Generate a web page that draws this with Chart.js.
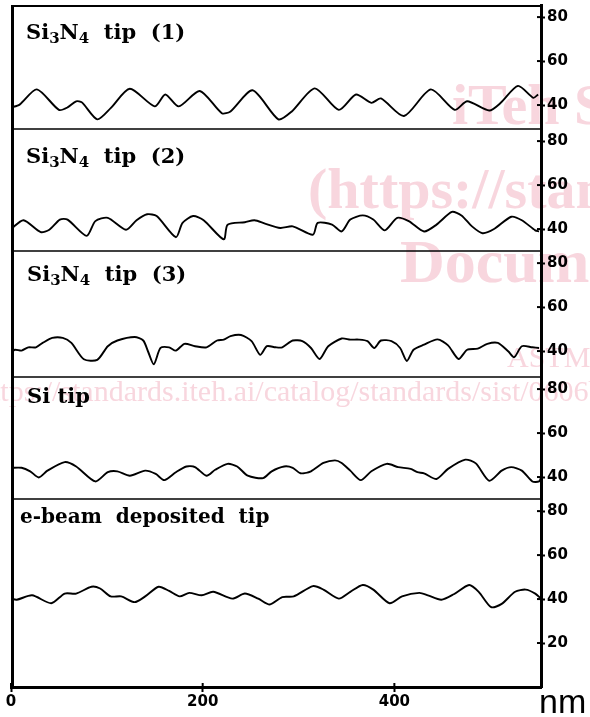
<!DOCTYPE html>
<html>
<head>
<meta charset="utf-8">
<title>Tip line profiles</title>
<script src="https://cdn.jsdelivr.net/npm/chart.js@4.4.1/dist/chart.umd.min.js"></script>
<style>
  html, body { margin: 0; padding: 0; background: #fff; }
  #profileChart { display: block; }
</style>
</head>
<body>
<canvas id="profileChart" width="590" height="717"></canvas>
<script>
// Line profiles: scan position (nm) and measured height, one pair per tip
const tip1Nm = [0, 9, 27, 50, 59, 68, 74, 90, 104, 124, 150, 161, 175, 197, 220, 229, 252, 279, 293, 317, 342, 360, 376, 386, 410, 438, 463, 476, 499, 511, 529, 545, 550];
const tip1Height = [38.9, 40.2, 47.1, 37.8, 38.9, 41.7, 41.2, 33.5, 38.6, 47.4, 39.4, 44.8, 39.4, 46.4, 36.3, 37.1, 46.7, 33.5, 37.1, 47.6, 37.8, 44.8, 41, 43, 35, 47.1, 37.8, 41.7, 37.5, 41, 48.7, 43.3, 44.8];

const tip2Nm = [0, 13, 31, 40, 51, 59, 79, 88, 101, 120, 131, 142, 152, 172, 179, 190, 201, 222, 226, 244, 254, 265, 281, 294, 315, 320, 335, 345, 354, 367, 378, 390, 403, 415, 431, 444, 460, 470, 481, 492, 504, 522, 533, 547, 551];
const tip2Height = [40, 44, 38.6, 39.7, 44.3, 44.3, 36.9, 43.6, 45.1, 39.7, 44, 46.7, 45.9, 36.3, 42.8, 45.9, 44, 35.3, 42, 43.1, 44, 42.5, 40.5, 41.2, 37.4, 42.8, 42, 38.9, 44.3, 46.2, 44.3, 39.4, 45.1, 43.6, 38.9, 42, 47.8, 46.2, 41.2, 38.1, 40, 45.6, 44, 39.4, 38.9];

const tip3Nm = [0, 4, 11, 18, 26, 33, 43, 54, 63, 76, 90, 101, 111, 129, 138, 143, 149, 156, 165, 172, 181, 192, 204, 215, 222, 229, 240, 251, 260, 267, 276, 283, 294, 304, 313, 322, 331, 345, 354, 363, 372, 379, 386, 397, 406, 413, 420, 431, 445, 456, 467, 476, 487, 497, 508, 519, 525, 533, 544, 551];
const tip3Height = [39.1, 40.6, 40.2, 41.7, 41.7, 43.7, 46, 46, 43.7, 36.3, 36, 42.2, 44.8, 46.4, 44.8, 39.8, 34, 41.4, 41.7, 40.2, 43.3, 42.2, 41.7, 44.8, 45.2, 46.8, 47.3, 44.5, 38.3, 42.2, 41.7, 41.7, 44.8, 44.5, 41.4, 36.4, 42.2, 45.7, 45.2, 45.2, 44.5, 41.4, 44.8, 44.5, 41.4, 35.5, 40.6, 42.9, 45.3, 42.6, 36.4, 40.6, 41.1, 43.3, 43.7, 39.8, 37.2, 42.2, 41.7, 41.4];

const tip4Nm = [0, 11, 20, 29, 38, 56, 68, 88, 101, 111, 124, 140, 151, 160, 172, 183, 192, 204, 213, 226, 236, 247, 263, 272, 285, 294, 302, 313, 326, 338, 345, 354, 365, 376, 392, 404, 417, 424, 431, 444, 456, 474, 485, 499, 512, 522, 533, 544, 551, 553];
const tip4Height = [44.2, 44.2, 42.6, 39.8, 42.9, 46.8, 44.8, 38, 42.2, 42.6, 40.6, 42.9, 41.4, 38.6, 42.2, 44.8, 44.5, 40.6, 43.3, 46, 44.8, 40.6, 39.5, 42.6, 44.8, 44.2, 41.7, 42.6, 46.4, 47.6, 46.4, 42.9, 38.6, 42.6, 46, 44.5, 43.7, 42.2, 41.7, 39.1, 43.7, 47.9, 46.2, 38.3, 42.9, 44.5, 42.9, 38, 38, 39.8];

const ebeamNm = [0, 6, 22, 42, 56, 68, 84, 93, 104, 115, 129, 140, 154, 165, 176, 186, 199, 211, 231, 244, 258, 270, 283, 295, 315, 326, 342, 354, 367, 378, 395, 408, 426, 435, 449, 462, 478, 488, 501, 512, 526, 537, 547, 553];
const ebeamHeight = [40.2, 39.7, 41.7, 38.1, 42.5, 42.5, 45.6, 44.8, 41.2, 41.2, 38.6, 41.2, 45.6, 43.7, 41.2, 42.8, 41.7, 43.3, 40.2, 42.5, 40.2, 37.5, 40.9, 41.2, 45.9, 44.3, 40.2, 43.3, 46.4, 44.3, 38.1, 41.2, 42.8, 41.7, 39.7, 42.2, 46.4, 43.3, 36.3, 37.8, 43.3, 44.3, 42.5, 40.2];

// Axis ticks
const xTickValues = [0, 200, 400];
const yTickValues = [20, 40, 60, 80];

// Panel titles, split into [text, subscript?] pieces
const panelTitles = [
    [['Si', false], ['3', true], ['N', false], ['4', true], ['  tip  (1)', false]],
    [['Si', false], ['3', true], ['N', false], ['4', true], ['  tip  (2)', false]],
    [['Si', false], ['3', true], ['N', false], ['4', true], ['  tip  (3)', false]],
    [['Si tip', false]],
    [['e-beam  deposited  tip', false]]
];

// Height range shown in each panel (top to bottom)
const panelMin = [29.1, 30.0, 28.2, 30.0, 0];
const panelMax = [85.5, 85.5, 85.5, 85.5, 85.5];

const profileNm = [tip1Nm, tip2Nm, tip3Nm, tip4Nm, ebeamNm];
const profileHeight = [tip1Height, tip2Height, tip3Height, tip4Height, ebeamHeight];
const panelIds = ['p1', 'p2', 'p3', 'p4', 'p5'];

const tickFont = { family: 'DejaVu Sans', size: 15, weight: 'bold' };
const titleSizes = [21, 21, 21, 21, 20];
const titleOffsets = [[26, 34], [26, 34], [27, 30], [27, 26], [20, 24]];

function buildPanelAxis(i) {
    return {
        type: 'linear',
        position: 'right',
        stack: 'panels',
        stackWeight: panelMax[i] - panelMin[i],
        min: panelMin[i],
        max: panelMax[i],
        afterFit: function(scale) {
            scale.width = 49;
            scale.paddingTop = 0;
            scale.paddingBottom = 0;
        },
        afterBuildTicks: function(scale) {
            scale.ticks = yTickValues
                .filter(v => v > scale.min && v < scale.max)
                .map(v => ({ value: v }));
        },
        border: { display: true, color: '#000', width: 3 },
        grid: { drawOnChartArea: false, drawTicks: true, tickLength: 4, tickWidth: 2, tickColor: '#000' },
        ticks: { color: '#000', padding: 2, font: tickFont }
    };
}

function drawTitle(ctx, pieces, x, y, size) {
    let cursor = x;
    pieces.forEach(([text, isSub]) => {
        ctx.font = 'bold ' + (isSub ? Math.round(size * 0.7) : size) + 'px "DejaVu Serif"';
        ctx.fillText(text, cursor, isSub ? y + 4 : y);
        cursor += ctx.measureText(text).width;
    });
}

const framePlugin = {
    id: 'frame',
    beforeDraw(chart) {
        const ctx = chart.ctx;
        ctx.save();
        ctx.fillStyle = '#fff';
        ctx.fillRect(0, 0, chart.width, chart.height);
        // watermark of the scanned source
        ctx.fillStyle = '#f8d6de';
        ctx.font = 'bold 58px "Liberation Serif"';
        ctx.fillText('iTeh STANDARD PREVIEW', 452, 124);
        ctx.fillText('(https://standards.iteh.ai)', 308, 208);
        ctx.font = 'bold 62px "Liberation Serif"';
        ctx.fillText('Document Preview', 400, 282);
        ctx.font = '30px "Liberation Serif"';
        ctx.fillText('ASTM E1813-96', 507, 367);
        ctx.fillText('https://standards.iteh.ai/catalog/standards/sist/0606b0d3', -23, 401);
        ctx.restore();
    },
    afterDraw(chart) {
        const { ctx, chartArea: area } = chart;
        ctx.save();
        ctx.strokeStyle = '#000';
        ctx.fillStyle = '#000';

        // left and top of the frame
        ctx.lineWidth = 3;
        ctx.beginPath();
        ctx.moveTo(area.left + 1.5, area.bottom);
        ctx.lineTo(area.left + 1.5, area.top);
        ctx.stroke();
        ctx.lineWidth = 2;
        ctx.beginPath();
        ctx.moveTo(area.left, area.top + 1);
        ctx.lineTo(area.right, area.top + 1);
        ctx.stroke();

        // panel separators
        ctx.lineWidth = 1.5;
        panelIds.slice(0, -1).forEach(id => {
            const y = chart.scales[id].bottom;
            ctx.beginPath();
            ctx.moveTo(area.left, y);
            ctx.lineTo(area.right, y);
            ctx.stroke();
        });

        // inner half of the tick crosses
        ctx.lineWidth = 2;
        panelIds.forEach(id => {
            const scale = chart.scales[id];
            scale.ticks.forEach(t => {
                const y = scale.getPixelForValue(t.value);
                ctx.beginPath();
                ctx.moveTo(area.right - 4, y);
                ctx.lineTo(area.right, y);
                ctx.stroke();
            });
        });
        const xScale = chart.scales.x;
        xScale.ticks.forEach(t => {
            const x = xScale.getPixelForValue(t.value);
            ctx.beginPath();
            ctx.moveTo(x, area.bottom - 4);
            ctx.lineTo(x, area.bottom);
            ctx.stroke();
        });

        // panel titles
        ctx.textBaseline = 'alphabetic';
        panelIds.forEach((id, i) => {
            const top = chart.scales[id].top;
            drawTitle(ctx, panelTitles[i], titleOffsets[i][0], top + titleOffsets[i][1], titleSizes[i]);
        });

        // x unit
        ctx.font = '34px "Liberation Sans"';
        ctx.fillText('nm', 539, 713);
        ctx.restore();
    }
};

const scales = {
    x: {
        type: 'linear',
        position: 'bottom',
        min: 0,
        max: 553,
        afterFit: function(scale) {
            scale.height = 30;
            scale.paddingLeft = 0;
            scale.paddingRight = 0;
        },
        afterBuildTicks: function(scale) {
            scale.ticks = xTickValues.map(v => ({ value: v }));
        },
        border: { display: true, color: '#000', width: 3 },
        grid: { drawOnChartArea: false, drawTicks: true, tickLength: 5, tickWidth: 2, tickColor: '#000' },
        ticks: { color: '#000', padding: 1, font: tickFont, maxRotation: 0 }
    }
};
panelIds.forEach((id, i) => { scales[id] = buildPanelAxis(i); });

const datasets = panelIds.map((id, i) => ({
    label: id,
    yAxisID: id,
    data: profileNm[i].map((nm, k) => ({ x: nm, y: profileHeight[i][k] })),
    borderColor: '#000',
    borderWidth: 1.9,
    pointRadius: 0,
    tension: 0.25,
    fill: false
}));

const ctx = document.getElementById('profileChart').getContext('2d');
new Chart(ctx, {
    type: 'line',
    data: { datasets: datasets },
    options: {
        responsive: false,
        animation: false,
        layout: { padding: { left: 11, top: 5, right: 0, bottom: 0 } },
        plugins: {
            legend: { display: false },
            tooltip: { enabled: false }
        },
        scales: scales
    },
    plugins: [framePlugin]
});
</script>
</body>
</html>
